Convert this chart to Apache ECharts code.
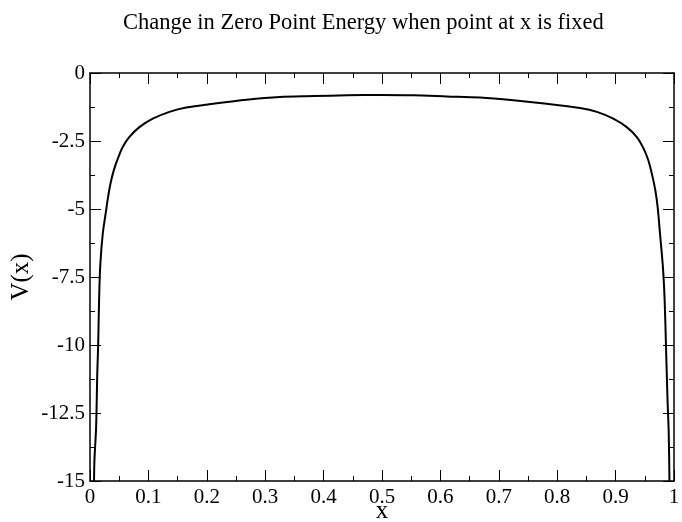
<!DOCTYPE html>
<html>
<head>
<meta charset="utf-8">
<script src="https://cdn.jsdelivr.net/npm/echarts@6/dist/echarts.min.js"></script>
<style>
  html, body { margin: 0; padding: 0; background: #fff; }
  #chart { width: 682px; height: 522px; }
</style>
</head>
<body>
<div id="chart"></div>
<script>
// values
const xValues = [0.0068, 0.0075, 0.0105, 0.0125, 0.014, 0.0155, 0.0175, 0.0219, 0.0276, 0.0305,
  0.035, 0.0407, 0.0476, 0.056, 0.0675, 0.0846, 0.1075, 0.136, 0.1646, 0.211,
  0.268, 0.325, 0.383, 0.44, 0.497, 0.554, 0.611, 0.668, 0.725, 0.782,
  0.839, 0.868, 0.896, 0.919, 0.936, 0.948, 0.956, 0.962, 0.968, 0.972,
  0.976, 0.981, 0.984, 0.9865, 0.9889, 0.991, 0.9925];
const vValues = [-15.5, -14.3, -13.0, -11.0, -10.0, -8.4, -7.1, -5.9, -5.05, -4.62,
  -4.07, -3.58, -3.15, -2.72, -2.35, -1.99, -1.68, -1.43, -1.27, -1.13,
  -0.98, -0.88, -0.85, -0.82, -0.81, -0.82, -0.86, -0.90, -1.0, -1.13,
  -1.29, -1.43, -1.68, -1.99, -2.35, -2.78, -3.21, -3.70, -4.31, -4.93,
  -5.9, -7.13, -8.36, -10.2, -12.0, -13.26, -15.5];
const xTicks = ['0', '0.1', '0.2', '0.3', '0.4', '0.5', '0.6', '0.7', '0.8', '0.9', '1'];
const yTicks = ['-15', '-12.5', '-10', '-7.5', '-5', '-2.5', '0'];

const serif = 'Liberation Serif';
const points = xValues.map((x, i) => [x, vValues[i]]);

const chart = echarts.init(document.getElementById('chart'));

const lineStyle = { show: true, onZero: false, lineStyle: { color: '#000', width: 1.5 } };
const tick = { show: true, inside: true, length: 11, lineStyle: { color: '#000', width: 1 } };
const minor = { show: true, splitNumber: 2, length: 5, lineStyle: { color: '#000', width: 1 } };

chart.setOption({
  animation: false,
  backgroundColor: '#fff',
  title: {
    text: 'Change in Zero Point Energy when point at x is fixed',
    left: 118, top: 7,
    textStyle: { fontFamily: serif, fontWeight: 'normal', fontSize: 22.5, color: '#000' }
  },
  grid: { left: 90, right: 8, top: 73, bottom: 41, outerBoundsMode: 'none', containLabel: false },
  xAxis: [{
    type: 'value', min: 0, max: 1, interval: 0.1,
    name: 'x', nameLocation: 'middle', nameGap: 18, nameMoveOverlap: false,
    nameTextStyle: { fontFamily: serif, fontSize: 25, color: '#000' },
    axisLine: lineStyle, axisTick: tick, minorTick: minor,
    axisLabel: {
      margin: 6, fontFamily: serif, fontSize: 21, color: '#000',
      formatter: v => xTicks[Math.round(v * 10)]
    },
    splitLine: { show: false }
  }, {
    type: 'value', min: 0, max: 1, interval: 0.1, position: 'top',
    axisLine: lineStyle, axisTick: tick, minorTick: minor,
    axisLabel: { show: false }, splitLine: { show: false }
  }],
  yAxis: [{
    type: 'value', min: -15, max: 0, interval: 2.5,
    name: 'V(x)', nameLocation: 'middle', nameGap: 56, nameRotate: 90, nameMoveOverlap: false,
    nameTextStyle: { fontFamily: serif, fontSize: 25, color: '#000' },
    axisLine: lineStyle, axisTick: tick, minorTick: minor,
    axisLabel: {
      margin: 5, fontFamily: serif, fontSize: 21, color: '#000',
      formatter: v => yTicks[Math.round((v + 15) / 2.5)]
    },
    splitLine: { show: false }
  }, {
    type: 'value', min: -15, max: 0, interval: 2.5, position: 'right',
    axisLine: lineStyle, axisTick: tick, minorTick: minor,
    axisLabel: { show: false }, splitLine: { show: false }
  }],
  series: [{
    type: 'line',
    data: points,
    showSymbol: false,
    smooth: 0.3,
    clip: true,
    lineStyle: { color: '#000', width: 2 }
  }]
});
</script>
</body>
</html>
